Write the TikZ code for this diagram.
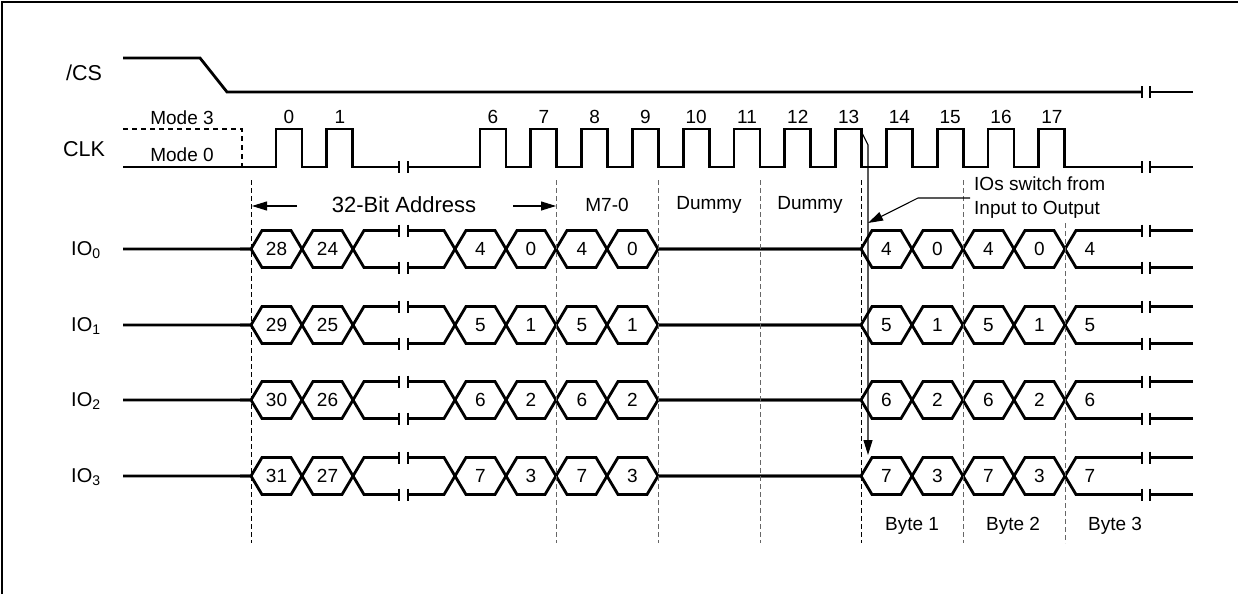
\documentclass[tikz,border=0pt]{standalone}
\usepackage{fontspec}
\setmainfont{Liberation Sans}
\usetikzlibrary{arrows.meta}
\tikzset{
  sig/.style={line width=2.8pt, line join=miter},
  brk/.style={line width=1.2pt},
  guide/.style={line width=0.9pt, dash pattern=on 5pt off 3pt},
  pointer/.style={line width=1.1pt, -{Triangle[length=15pt,width=9pt]}},
  txt/.style={inner sep=0pt, font=\fontsize{19}{23.5}\selectfont},
  signame/.style={inner sep=0pt, anchor=west, font=\fontsize{21.5}{25}\selectfont},
}
\begin{document}
\begin{tikzpicture}[x=1pt,y=-1pt]
  \useasboundingbox (0,0) rectangle (1238,594);
  % frame
  \draw[line width=2.5pt] (2,594) -- (2,2) -- (1238,2);

  % signal names
  \node[signame] (cs) at (66,73) {/CS};
  \node[signame] (clk) at (63,149) {CLK};
  \node[txt] (mode3) at (182,118) {Mode 3};
  \node[txt] (mode0) at (182,155) {Mode 0};

  % /CS
  \draw[sig] (123,58) -- (200,58) -- (227,92) -- (1142,92);
  \draw[sig] (1150,92) -- (1193,92);

  % CLK
  \draw[sig, dash pattern=on 5pt off 4pt] (123,129) -- (242,129) -- (242,167);
  \draw[sig] (123,167) \foreach \i in {0,1} { -- ({276+50.8*\i},167) -- ++(0,-38) -- ++(26,0) -- ++(0,38) } -- (399,167);
  \draw[sig] (408,167) \foreach \i in {0,...,11} { -- ({480+50.8*\i},167) -- ++(0,-38) -- ++(26,0) -- ++(0,38) } -- (1142,167);
  \draw[sig] (1150,167) -- (1193,167);
  \foreach \i in {0,1}
    \node[txt] (n\i) at ({289+50.8*\i},117) {\i};
  \foreach \i in {6,...,17}
    \node[txt] (n\i) at ({493+50.8*(\i-6)},117) {\i};

  % breaks on /CS and CLK
  \foreach \x in {1142,1150}
    \draw[brk] (\x,86) -- (\x,98);
  \foreach \x in {399,408,1142,1150}
    \draw[brk] (\x,161) -- (\x,173);

  % IO buses
  \foreach \y/\k in {249/0,325/1,400/2,476/3} {
    \pgfmathsetmacro\ytop{\y-18.5}
    \pgfmathsetmacro\ybot{\y+18.5}
    \pgfmathtruncatemacro\hi{28+\k}
    \pgfmathtruncatemacro\lo{24+\k}
    \pgfmathtruncatemacro\nib{4+\k}
    \node[txt, anchor=west, font=\fontsize{20}{24}\selectfont] (io\k) at (71,\y+1) {IO\textsubscript{\k}};
    \draw[sig] (123,\y) -- (251,\y) -- (262,\ytop) -- (291,\ytop) -- (313,\ybot) -- (342,\ybot) -- (364,\ytop) -- (399,\ytop);
    \draw[sig] (240,\y) -- (251,\y) -- (262,\ybot) -- (291,\ybot) -- (313,\ytop) -- (342,\ytop) -- (364,\ybot) -- (399,\ybot);
    \draw[sig] (408,\ytop) -- (444,\ytop) -- (466,\ybot) -- (495,\ybot) -- (517,\ytop) -- (545,\ytop) -- (567,\ybot) -- (596,\ybot) -- (618,\ytop) -- (647,\ytop) -- (658,\y)
      -- (861,\y) -- (872,\ytop) -- (901,\ytop) -- (923,\ybot) -- (952,\ybot) -- (974,\ytop) -- (1003,\ytop) -- (1025,\ybot) -- (1054,\ybot) -- (1076,\ytop) -- (1142,\ytop);
    \draw[sig] (408,\ybot) -- (444,\ybot) -- (466,\ytop) -- (495,\ytop) -- (517,\ybot) -- (545,\ybot) -- (567,\ytop) -- (596,\ytop) -- (618,\ybot) -- (647,\ybot) -- (658,\y)
      -- (861,\y) -- (872,\ybot) -- (901,\ybot) -- (923,\ytop) -- (952,\ytop) -- (974,\ybot) -- (1003,\ybot) -- (1025,\ytop) -- (1054,\ytop) -- (1076,\ybot) -- (1142,\ybot);
    \draw[sig] (1150,\ytop) -- (1193,\ytop);
    \draw[sig] (1150,\ybot) -- (1193,\ybot);
    \foreach \x in {399,408,1142,1150}
      \draw[brk] (\x,\ytop-6) -- (\x,\ytop+6) (\x,\ybot-6) -- (\x,\ybot+6);
    \node[txt] (d\k-a) at (276.5,\y) {\hi};
    \node[txt] (d\k-b) at (327.5,\y) {\lo};
    \node[txt] (d\k-c) at (480.5,\y) {\nib};
    \node[txt] (d\k-d) at (531,\y) {\k};
    \node[txt] (d\k-e) at (582,\y) {\nib};
    \node[txt] (d\k-f) at (632.5,\y) {\k};
    \node[txt] (d\k-g) at (886.5,\y) {\nib};
    \node[txt] (d\k-h) at (937.5,\y) {\k};
    \node[txt] (d\k-i) at (988.5,\y) {\nib};
    \node[txt] (d\k-j) at (1039.5,\y) {\k};
    \node[txt] (d\k-k) at (1090,\y) {\nib};
  }

  % phase guides
  \foreach \x in {251,861}
    \draw[guide] (\x,180) -- (\x,543);
  \foreach \x in {556,658,760,963}
    \draw[guide, black!60] (\x,180) -- (\x,543);
  \draw[guide, black!60] (1065,223) -- (1065,543);

  % phase labels
  \node[inner sep=0pt, font=\fontsize{22}{26}\selectfont] (addr) at (404,205) {32-Bit Address};
  \coordinate (addrl) at (297,206);
  \coordinate (addrlend) at (252,206);
  \coordinate (addrr) at (513,206);
  \coordinate (addrrend) at (556,206);
  \draw[pointer] (addrl) -- (addrlend);
  \draw[pointer] (addrr) -- (addrrend);
  \node[txt] (mode) at (607,205) {M7-0};
  \node[txt] (dummy1) at (709,205) {Dummy};
  \node[txt] (dummy2) at (810,205) {Dummy};
  \node[txt] (byte1) at (912,526) {Byte 1};
  \node[txt] (byte2) at (1013,526) {Byte 2};
  \node[txt] (byte3) at (1115,526) {Byte 3};

  % turnaround
  \node[txt, align=left, anchor=north west] (switch) at (974,177) {IOs switch from\\Input to Output};
  \coordinate (swfrom) at (970,198);
  \coordinate (swto) at (868,223);
  \draw[pointer] (swfrom) -- (918,198) -- (swto);
  \coordinate (edge13) at (861,131);
  \coordinate (io3top) at (868,455);
  \draw[pointer] (edge13) -- (868,145) -- (io3top);
\end{tikzpicture}
\end{document}
